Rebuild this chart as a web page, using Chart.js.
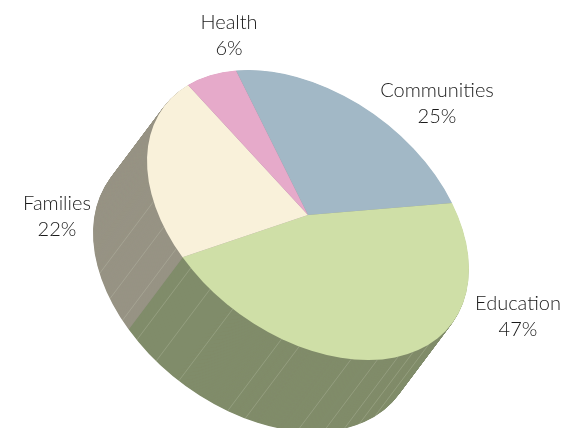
<!DOCTYPE html>
<html>
<head>
<meta charset="utf-8">
<style>
  html, body { margin: 0; padding: 0; background: #fff; }
  canvas { display: block; }
</style>
<script src="https://cdn.jsdelivr.net/npm/chart.js@4"></script>
</head>
<body>
<canvas id="pie" width="572" height="428"></canvas>
<script>
const categories = ['Communities', 'Education', 'Families', 'Health'];
const shares = [25, 46.6, 22.4, 6];
const topColors = ['#a2b8c6', '#cfdfa7', '#f9f1da', '#e6aaca'];
const wallColors = ['#7f8c96', '#808c6a', '#979384', '#a98aa0'];

// label centres, one per category
const labelX = [437, 518, 57, 229];
const labelY = [91, 304, 204, 23];

// thin seams on the wall, degrees clockwise from the top of the pie
const seams = [158, 165.8, 172.5, 181, 191, 209.7, 216, 234.4, 244, 253.3, 261.4, 270.1, 280.1];

// tilt of the disc: unit circle to screen
const tilt = { a: 144, b: -12, c: 72, d: 144.5, x: 308, y: 215 };
const depth = { x: -54, y: 72 };

function tiltCtx(ctx, arc, dx, dy) {
    const r = arc.outerRadius;
    const a = tilt.a / r, b = tilt.b / r, c = tilt.c / r, d = tilt.d / r;
    ctx.transform(a, b, c, d,
        tilt.x + dx - a * arc.x - c * arc.y,
        tilt.y + dy - b * arc.x - d * arc.y);
}

function drawArc(ctx, arc, color, dx, dy) {
    const opts = arc.options;
    arc.options = Object.assign({}, opts, { backgroundColor: color, borderWidth: 0 });
    ctx.save();
    tiltCtx(ctx, arc, dx, dy);
    arc.draw(ctx);
    ctx.restore();
    arc.options = opts;
}

const tiltedPie = {
    id: 'tiltedPie',
    beforeDatasetsDraw(chart) {
        const ctx = chart.ctx;
        const arcs = chart.getDatasetMeta(0).data;
        const steps = 144;
        for (let i = steps; i > 0; i--) {
            const k = i / steps;
            arcs.forEach((arc, n) => drawArc(ctx, arc, wallColors[n], depth.x * k, depth.y * k));
        }
        ctx.save();
        ctx.strokeStyle = 'rgba(214,216,196,0.4)';
        ctx.lineWidth = 0.6;
        seams.forEach(deg => {
            const t = (deg - 90) * Math.PI / 180;
            const px = tilt.x + tilt.a * Math.cos(t) + tilt.c * Math.sin(t);
            const py = tilt.y + tilt.b * Math.cos(t) + tilt.d * Math.sin(t);
            ctx.beginPath();
            ctx.moveTo(px, py);
            ctx.lineTo(px + depth.x, py + depth.y);
            ctx.stroke();
        });
        ctx.restore();
        arcs.forEach((arc, n) => drawArc(ctx, arc, topColors[n], 0, 0));
        return false;
    },
    afterDraw(chart) {
        const ctx = chart.ctx;
        ctx.save();
        ctx.font = '300 20px Lato, "Open Sans", sans-serif';
        ctx.fillStyle = '#1a1a1a';
        ctx.textAlign = 'center';
        ctx.textBaseline = 'middle';
        categories.forEach((name, n) => {
            ctx.fillText(name, labelX[n], labelY[n]);
            ctx.fillText(Math.round(shares[n]) + '%', labelX[n], labelY[n] + 26);
        });
        ctx.restore();
    }
};

new Chart(document.getElementById('pie').getContext('2d'), {
    type: 'pie',
    data: {
        labels: categories,
        datasets: [{
            data: shares,
            backgroundColor: topColors,
            borderWidth: 0
        }]
    },
    options: {
        responsive: false,
        animation: false,
        rotation: 0,
        plugins: {
            legend: { display: false },
            tooltip: { enabled: false }
        }
    },
    plugins: [tiltedPie]
});
</script>
</body>
</html>
